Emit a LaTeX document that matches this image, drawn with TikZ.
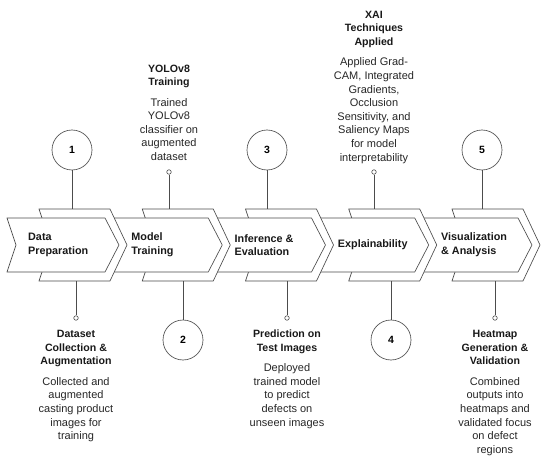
\documentclass[tikz,border=0pt]{standalone}
\usepackage{fontspec}
\setmainfont{Liberation Sans}
\usetikzlibrary{positioning, calc}

\tikzset{
  outline/.style={draw=black!70, line width=0.65pt, fill=white, line join=miter},
  stepnum/.style={circle, draw=black!70, line width=0.65pt, fill=white, minimum size=40pt, inner sep=0pt, font=\bfseries\fontsize{10.5}{12}\selectfont},
  stepdot/.style={circle, draw=black!70, line width=0.6pt, fill=white, minimum size=4.5pt, inner sep=0pt},
  tag/.style={font=\bfseries\fontsize{10.8}{13.6}\selectfont, align=left, anchor=west, inner sep=0pt, text=black!90},
  head/.style={font=\bfseries\fontsize{10.6}{13.6}\selectfont, align=center, anchor=north, inner sep=0pt, text=black!90},
  blurb/.style={font=\fontsize{11}{13.6}\selectfont, align=center, anchor=north, inner sep=0pt, text=black!85},
  link/.style={draw=black!70, line width=0.65pt}
}

\begin{document}
\begin{tikzpicture}[x=1pt, y=-1pt]
  \useasboundingbox (0,0) rectangle (550,463);

  % Chevrons, drawn from the last step back to the first
  \foreach \x/\n in {518/5, 414.75/4, 311.5/3, 208.25/2, 105/1} {
    \draw[outline] (\x-66,209) -- (\x+5,209) -- (\x+22,245) -- (\x+5,281) -- (\x-66,281) -- (\x-54,245) -- cycle;
    \draw[outline] (\x-98,218) -- (\x,218) -- (\x+14,245) -- (\x,272) -- (\x-98,272) -- (\x-89,245) -- cycle;
    \coordinate (lbl\n) at (\x-77,245);
  }

  % Step labels
  \node[tag] (p1) at (lbl1) {Data\\Preparation};
  \node[tag] (p2) at (lbl2) {Model\\Training};
  \node[tag] (p3) at (lbl3) {Inference \&\\Evaluation};
  \node[tag] (p4) at (lbl4) {Explainability};
  \node[tag] (p5) at (lbl5) {Visualization\\\& Analysis};

  % Connector ends on the chevrons
  \coordinate (t1) at (72,209);
  \coordinate (t2) at (169,209);
  \coordinate (t3) at (267,209);
  \coordinate (t4) at (374,209);
  \coordinate (t5) at (482,209);
  \coordinate (b1) at (76,281);
  \coordinate (b2) at (183,281);
  \coordinate (b3) at (287,281);
  \coordinate (b4) at (391,281);
  \coordinate (b5) at (495,281);

  % Numbered circles
  \node[stepnum] (c1) at (72,150) {1};
  \node[stepnum] (c2) at (183,340) {2};
  \node[stepnum] (c3) at (267,150) {3};
  \node[stepnum] (c4) at (391,340) {4};
  \node[stepnum] (c5) at (482,150) {5};

  % Small dots
  \node[stepdot] (d1) at (76,318) {};
  \node[stepdot] (d2) at (169,172) {};
  \node[stepdot] (d3) at (287,318) {};
  \node[stepdot] (d4) at (374,172) {};
  \node[stepdot] (d5) at (495,318) {};

  % Connectors
  \draw[link] (c1) -- (t1);
  \draw[link] (d2) -- (t2);
  \draw[link] (c3) -- (t3);
  \draw[link] (d4) -- (t4);
  \draw[link] (c5) -- (t5);
  \draw[link] (b1) -- (d1);
  \draw[link] (b2) -- (c2);
  \draw[link] (b3) -- (d3);
  \draw[link] (b4) -- (c4);
  \draw[link] (b5) -- (d5);

  % Texts above
  \node[head] (h2) at (169,64.5) {YOLOv8\\Training};
  \node[blurb] (s2) at (169,98) {Trained\\YOLOv8\\classifier on\\augmented\\dataset};
  \node[head] (h4) at (374,10.7) {XAI\\Techniques\\Applied};
  \node[blurb] (s4) at (374,57.8) {Applied Grad-\\CAM, Integrated\\Gradients,\\Occlusion\\Sensitivity, and\\Saliency Maps\\for model\\interpretability};

  % Texts below
  \node[head] (h1) at (76,330.1) {Dataset\\Collection \&\\Augmentation};
  \node[blurb] (s1) at (76,377.2) {Collected and\\augmented\\casting product\\images for\\training};
  \node[head] (h3) at (287,330.1) {Prediction on\\Test Images};
  \node[blurb] (s3) at (287,363.6) {Deployed\\trained model\\to predict\\defects on\\unseen images};
  \node[head] (h5) at (495,330.1) {Heatmap\\Generation \&\\Validation};
  \node[blurb] (s5) at (495,377.2) {Combined\\outputs into\\heatmaps and\\validated focus\\on defect\\regions};
\end{tikzpicture}
\end{document}
